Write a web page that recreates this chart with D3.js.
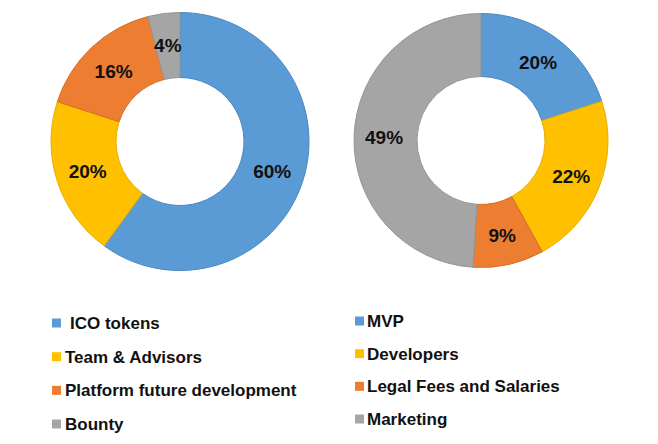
<!DOCTYPE html>
<html><head><meta charset="utf-8">
<script src="https://cdn.jsdelivr.net/npm/d3@7"></script>
<style>body{margin:0;background:#fff}svg{display:block}</style>
</head><body>
<svg id="chart" width="658" height="444"></svg>
<script>
const leftCategories = ["ICO tokens", "Team & Advisors", "Platform future development", "Bounty"];
const leftValues = [60, 20, 16, 4];
const rightCategories = ["MVP", "Developers", "Legal Fees and Salaries", "Marketing"];
const rightValues = [20, 22, 9, 49];
const colors = ["#5B9BD5", "#FFC000", "#ED7D31", "#A5A5A5"];
const strokes = ["#4A88C0", "#E8AE00", "#D66D26", "#959595"];

const svg = d3.select("#chart");
const font = "'Liberation Sans', Arial, sans-serif";

function donut(cats, vals, cx, cy, rOuter, rInner, labelR) {
  const g = svg.append("g").attr("transform", `translate(${cx},${cy})`);
  const pie = d3.pie().sort(null).value(d => d.v);
  const data = pie(cats.map((c, i) => ({c, v: vals[i], i})));
  const arc = d3.arc().innerRadius(rInner).outerRadius(rOuter);
  const lab = d3.arc().innerRadius(labelR).outerRadius(labelR);
  g.selectAll("path").data(data).join("path")
    .attr("d", arc)
    .attr("fill", d => colors[d.data.i])
    .attr("stroke", d => strokes[d.data.i])
    .attr("stroke-width", 1);
  g.selectAll("text").data(data).join("text")
    .attr("transform", d => `translate(${lab.centroid(d)})`)
    .attr("text-anchor", "middle")
    .attr("dy", "0.36em")
    .attr("font-family", font)
    .attr("font-weight", "bold")
    .attr("font-size", 19)
    .attr("fill", "#111")
    .text(d => d.data.v + "%");
}

donut(leftCategories, leftValues, 180, 141.5, 129, 64, 97);
donut(rightCategories, rightValues, 481, 140.5, 127, 64, 97);

function legend(cats, x, ys, textX) {
  const g = svg.append("g");
  const y = d3.scalePoint().domain(cats).range(ys);
  cats.forEach((c, i) => {
    g.append("rect").attr("x", x).attr("y", y(c) - 4.5).attr("width", 9).attr("height", 9)
      .attr("fill", colors[i]);
    g.append("text").attr("x", textX[i]).attr("y", y(c)).attr("dy", "0.36em")
      .attr("font-family", font).attr("font-weight", "bold").attr("font-size", 17)
      .attr("fill", "#111").text(c);
  });
}
legend(leftCategories, 52, [323, 424], [70, 65, 65, 65]);
legend(rightCategories, 355, [321, 419], [367, 367, 367, 367]);
</script>
</body></html>
